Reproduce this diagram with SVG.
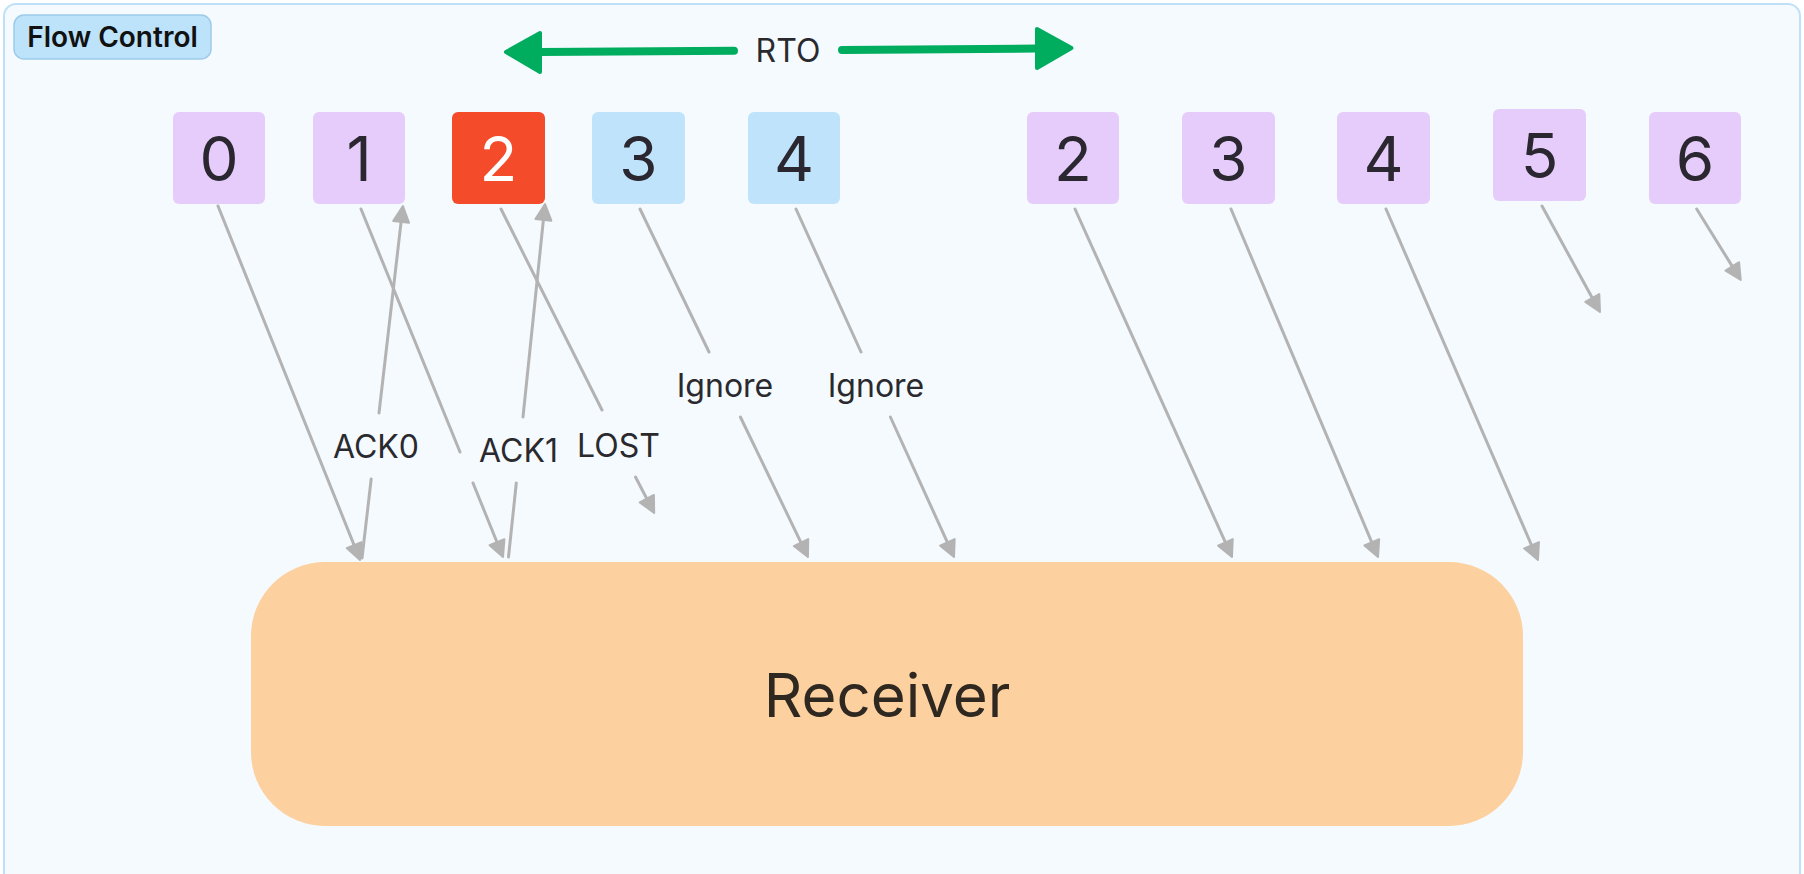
<svg xmlns="http://www.w3.org/2000/svg" width="1804" height="874" viewBox="0 0 1804 874">
<style>
.lbl{font-family:Inter,"Noto Sans","Liberation Sans",sans-serif;font-size:32px;fill:#2a2a2e;text-anchor:middle}
.dig{font-family:Inter,"Noto Sans","Liberation Sans",sans-serif;font-size:62px;fill:#2b2730;text-anchor:middle}
.pu{fill:#e6ccfb}
.bl{fill:#bee3fb}
.rd{fill:#f44b2a}
.cn{fill:none;stroke:#b3b3b3;stroke-width:3;stroke-linecap:round}
.ar{marker-end:url(#ah)}
.rto{fill:none;stroke:#00ad5f;stroke-width:8;stroke-linecap:round}
.rtoh{fill:#00ad5f;stroke:#00ad5f;stroke-width:4;stroke-linejoin:round}
</style>
<defs>
<marker id="ah" viewBox="0 0 20 20" refX="2" refY="10" markerWidth="20" markerHeight="20" markerUnits="userSpaceOnUse" orient="auto">
<path d="M2,2 L18,10 L2,18 z" fill="#b3b3b3" stroke="#b3b3b3" stroke-width="2" stroke-linejoin="round"/>
</marker>
</defs>
<g id="frame">
<rect x="4" y="4" width="1796" height="890" rx="12" fill="#f5faff" stroke="#bfe1f8" stroke-width="2"/>
<rect x="14" y="15" width="197" height="44" rx="10" fill="#bde3fb" stroke="#9ccbea" stroke-width="1.5"/>
<text x="112.5" y="47" font-family="Inter,'Noto Sans','Liberation Sans',sans-serif" font-size="28" font-weight="600" fill="#111" text-anchor="middle">Flow Control</text>
</g>
<g id="rto">
<polygon class="rtoh" points="506,52 540,33 540,72"/>
<line class="rto" x1="540" y1="52" x2="734" y2="50.7"/>
<line class="rto" x1="842" y1="50" x2="1037" y2="48.5"/>
<polygon class="rtoh" points="1071.5,48 1037,29 1037,68"/>
<text class="lbl" x="788" y="62">RTO</text>
</g>
<g id="n0"><rect class="pu" x="173" y="112" width="92" height="92" rx="6"/><text class="dig" x="219" y="181">0</text></g>
<g id="n1"><rect class="pu" x="313" y="112" width="92" height="92" rx="6"/><text class="dig" x="359" y="181">1</text></g>
<g id="n2"><rect class="rd" x="452" y="112" width="93" height="92" rx="6"/><text class="dig" x="498.5" y="181" style="fill:#fff">2</text></g>
<g id="n3"><rect class="bl" x="592" y="112" width="93" height="92" rx="6"/><text class="dig" x="638.5" y="181">3</text></g>
<g id="n4"><rect class="bl" x="748" y="112" width="92" height="92" rx="6"/><text class="dig" x="794" y="181">4</text></g>
<g id="n2b"><rect class="pu" x="1027" y="112" width="92" height="92" rx="6"/><text class="dig" x="1073" y="181">2</text></g>
<g id="n3b"><rect class="pu" x="1182" y="112" width="93" height="92" rx="6"/><text class="dig" x="1228.5" y="181">3</text></g>
<g id="n4b"><rect class="pu" x="1337" y="112" width="93" height="92" rx="6"/><text class="dig" x="1383.5" y="181">4</text></g>
<g id="n5"><rect class="pu" x="1493" y="109" width="93" height="92" rx="6"/><text class="dig" x="1539.5" y="178">5</text></g>
<g id="n6"><rect class="pu" x="1649" y="112" width="92" height="92" rx="6"/><text class="dig" x="1695" y="181">6</text></g>
<g id="receiver">
<rect x="251" y="562" width="1272" height="264" rx="74" fill="#fcd09f"/>
<text x="887" y="717" font-family="Inter,'Noto Sans','Liberation Sans',sans-serif" font-size="60" fill="#2e2820" text-anchor="middle">Receiver</text>
</g>
<g id="connectors">
<path class="cn ar" d="M218,206 L354.1,545.1"/>
<path class="cn" d="M362,558 L371.2,479"/>
<path class="cn ar" d="M379,413 L401.1,221.9"/>
<path class="cn" d="M361,209 L460,452"/>
<path class="cn ar" d="M473,483 L497,542.2"/>
<path class="cn" d="M508.5,557 L516.3,483"/>
<path class="cn ar" d="M523,417 L543.4,219.9"/>
<path class="cn" d="M501,209 L602,410"/>
<path class="cn ar" d="M635.5,477 L646.8,498.7"/>
<path class="cn" d="M640,209 L709,352"/>
<path class="cn ar" d="M740.4,417 L801,542.6"/>
<path class="cn" d="M796,209 L861,352"/>
<path class="cn ar" d="M890.4,417 L947.4,542.4"/>
<path class="cn ar" d="M1075,209 L1225.4,542.4"/>
<path class="cn ar" d="M1231,209 L1371.8,542.3"/>
<path class="cn ar" d="M1386,209 L1531.6,545.3"/>
<path class="cn ar" d="M1542,206 L1592.3,298"/>
<path class="cn ar" d="M1696.7,209 L1732.3,266.4"/>
<text class="lbl" x="376" y="458">ACK0</text>
<text class="lbl" x="518.5" y="462">ACK1</text>
<text class="lbl" x="618.5" y="457">LOST</text>
<text class="lbl" x="725" y="397">Ignore</text>
<text class="lbl" x="876" y="397">Ignore</text>
</g>
</svg>
